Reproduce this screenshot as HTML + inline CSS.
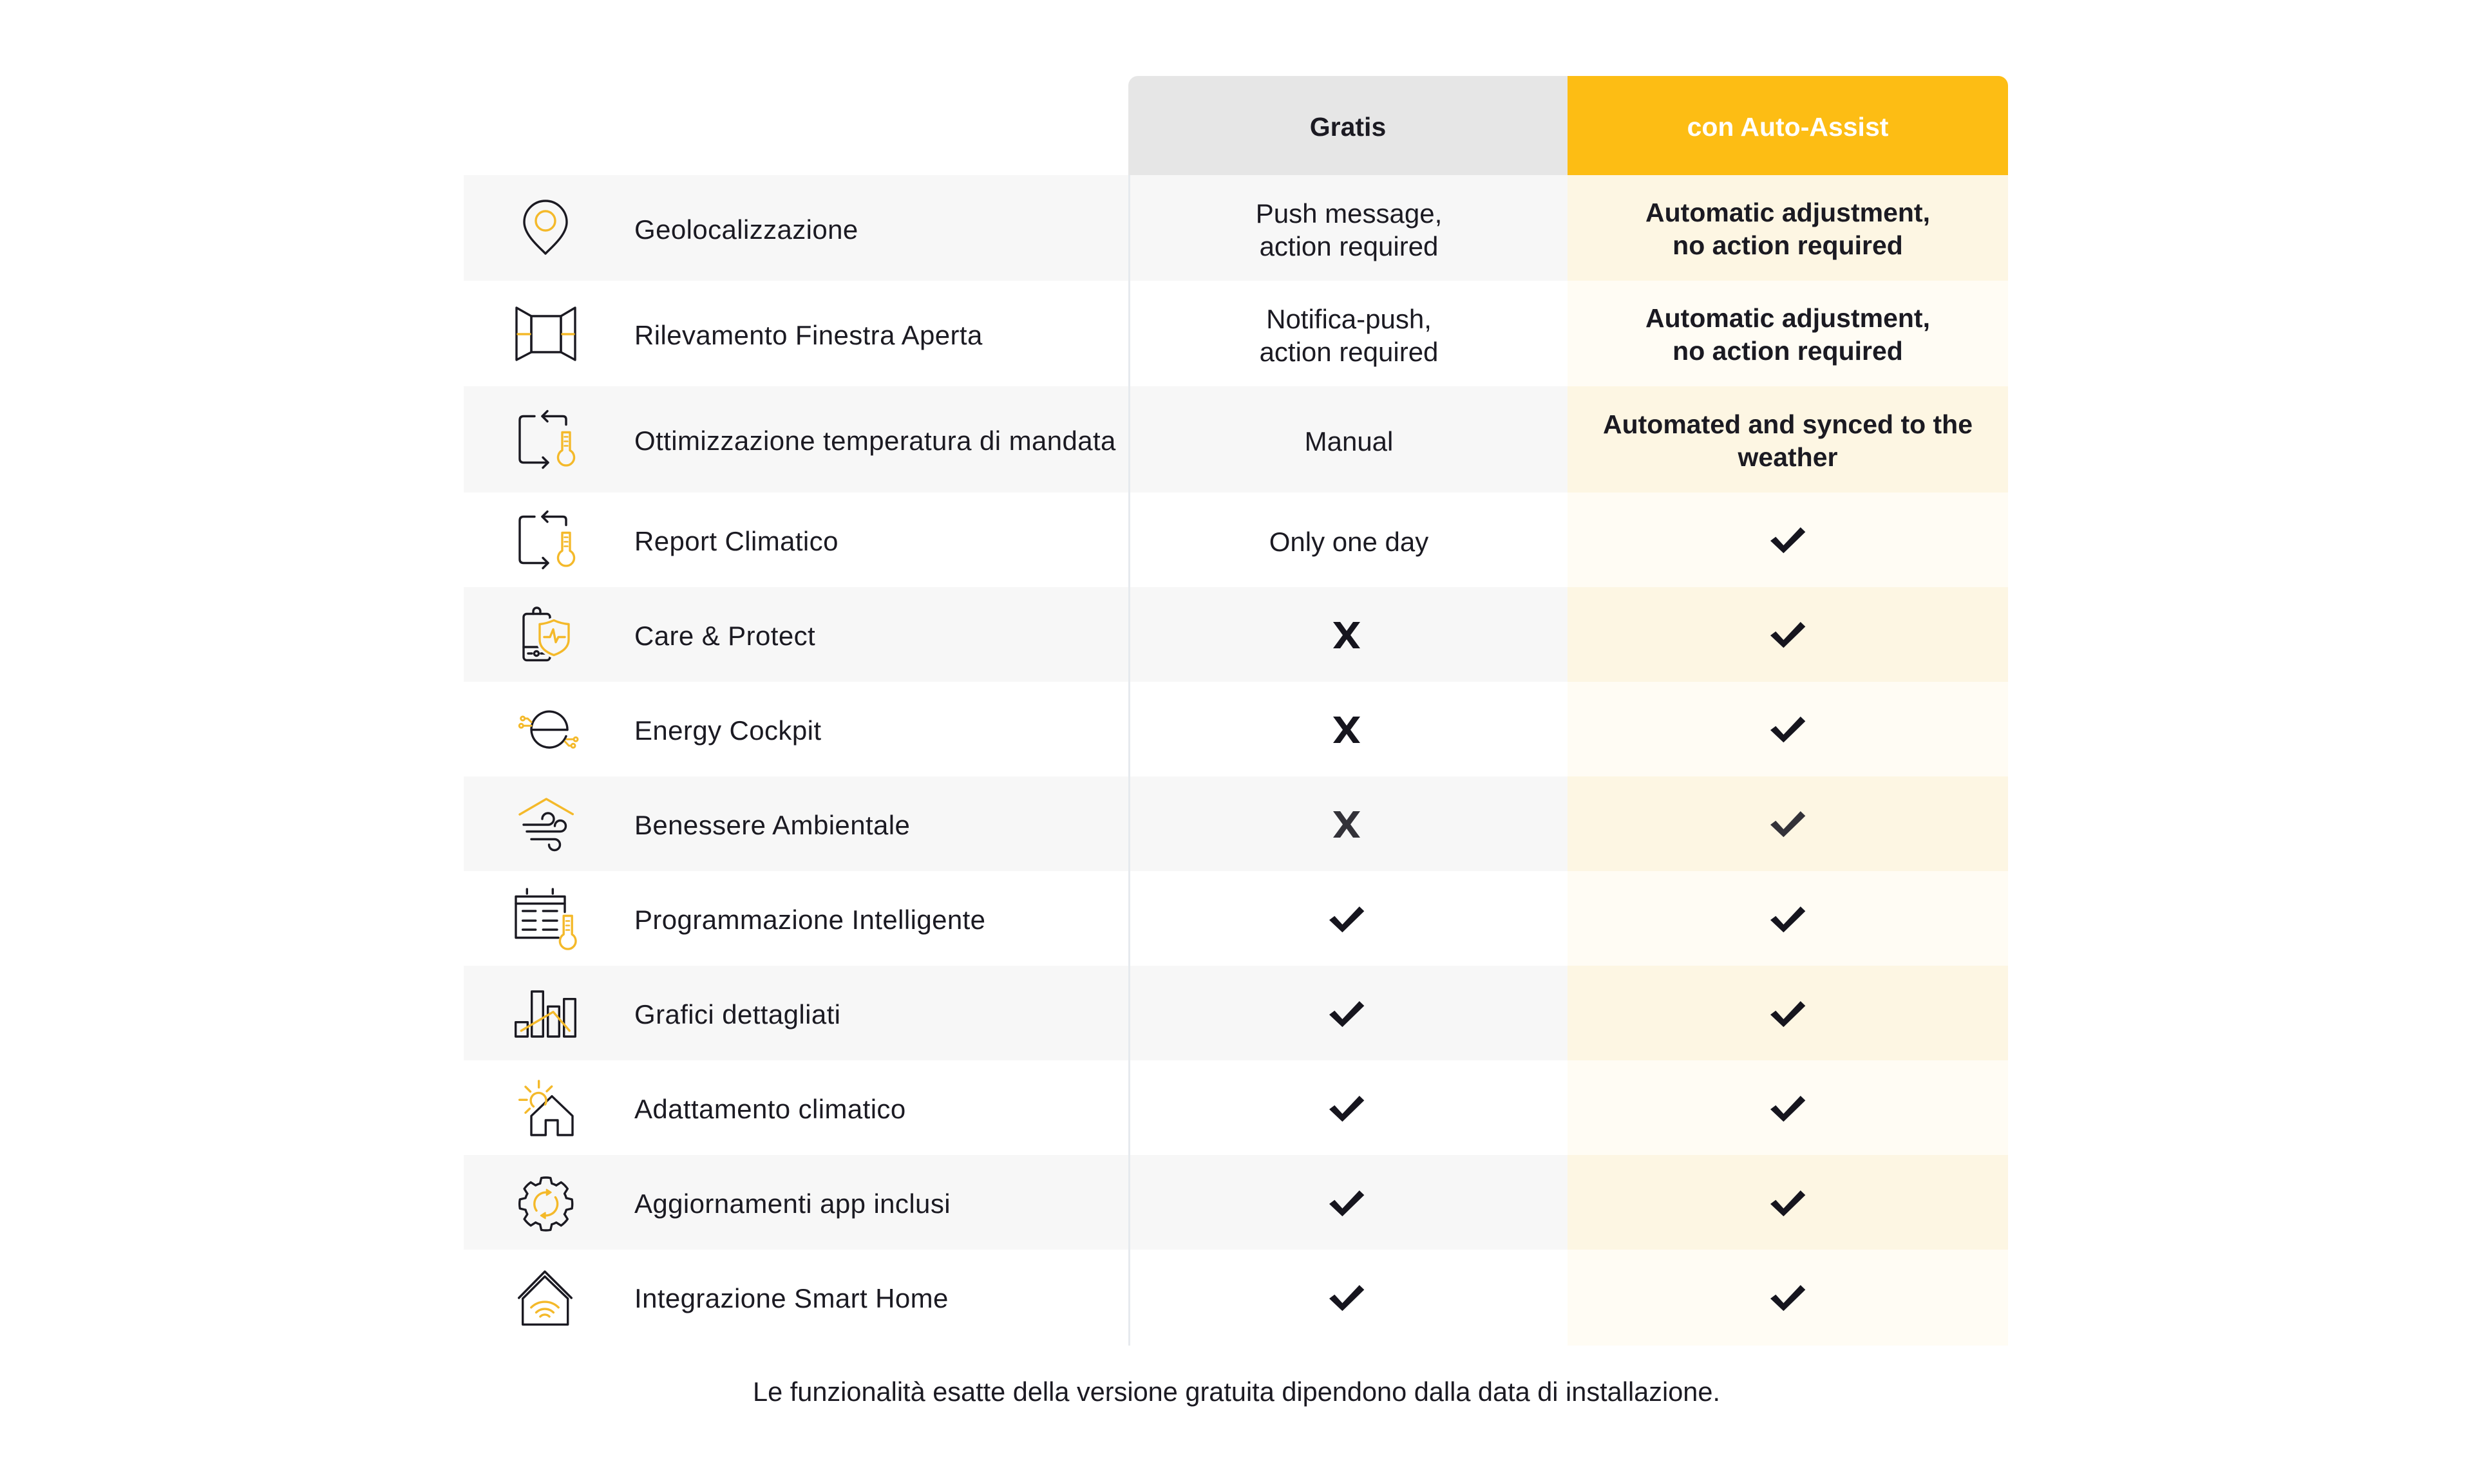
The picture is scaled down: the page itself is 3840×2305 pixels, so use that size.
<!DOCTYPE html>
<html>
<head>
<meta charset="utf-8">
<style>
html,body{margin:0;padding:0;background:#fff;}
body{width:3840px;height:2305px;position:relative;overflow:hidden;font-family:"Liberation Sans",Arial,sans-serif;color:#1b1a22;}
.bg{position:absolute;}
.lbl{position:absolute;left:985px;width:760px;display:flex;align-items:center;font-size:42px;letter-spacing:0.4px;white-space:nowrap;padding-top:5px;box-sizing:border-box;}
.gc{position:absolute;left:1755px;width:679px;display:flex;align-items:center;justify-content:center;text-align:center;font-size:42px;line-height:51px;padding-top:5px;box-sizing:border-box;}
.ac{position:absolute;left:2434px;width:684px;display:flex;align-items:center;justify-content:center;text-align:center;font-size:41px;line-height:51px;font-weight:bold;padding-top:4px;box-sizing:border-box;}
.hd{position:absolute;top:118px;height:154px;display:flex;align-items:center;justify-content:center;font-size:41px;font-weight:bold;padding-top:5px;box-sizing:border-box;}
svg{position:absolute;left:0;top:0;}
</style>
</head>
<body>
<!-- header -->
<div class="bg" style="left:1752px;top:118px;width:682px;height:154px;background:#e6e6e6;border-top-left-radius:15px;"></div>
<div class="bg" style="left:2434px;top:118px;width:684px;height:154px;background:#fdbd14;border-top-right-radius:15px;"></div>
<div class="hd" style="left:1752px;width:682px;color:#1b1a22;">Gratis</div>
<div class="hd" style="left:2434px;width:684px;color:#ffffff;">con Auto-Assist</div>

<!-- gray rows -->
<div class="bg" style="left:720px;top:272px;width:1714px;height:164px;background:#f7f7f7;"></div>
<div class="bg" style="left:720px;top:600px;width:1714px;height:165px;background:#f7f7f7;"></div>
<div class="bg" style="left:720px;top:912px;width:1714px;height:147px;background:#f7f7f7;"></div>
<div class="bg" style="left:720px;top:1206px;width:1714px;height:147px;background:#f7f7f7;"></div>
<div class="bg" style="left:720px;top:1500px;width:1714px;height:147px;background:#f7f7f7;"></div>
<div class="bg" style="left:720px;top:1794px;width:1714px;height:147px;background:#f7f7f7;"></div>

<!-- auto column -->
<div class="bg" style="left:2434px;top:272px;width:684px;height:1818px;background:#fffcf4;"></div>
<div class="bg" style="left:2434px;top:272px;width:684px;height:164px;background:#fdf6e3;"></div>
<div class="bg" style="left:2434px;top:600px;width:684px;height:165px;background:#fdf6e3;"></div>
<div class="bg" style="left:2434px;top:912px;width:684px;height:147px;background:#fdf6e3;"></div>
<div class="bg" style="left:2434px;top:1206px;width:684px;height:147px;background:#fdf6e3;"></div>
<div class="bg" style="left:2434px;top:1500px;width:684px;height:147px;background:#fdf6e3;"></div>
<div class="bg" style="left:2434px;top:1794px;width:684px;height:147px;background:#fdf6e3;"></div>

<!-- divider line -->
<div class="bg" style="left:1752px;top:272px;width:3px;height:1818px;background:#e6eaee;"></div>

<svg width="3840" height="2305" viewBox="0 0 3840 2305" xmlns="http://www.w3.org/2000/svg">
<g fill="none" stroke="#1b1a22" stroke-width="3.4" stroke-linecap="round" stroke-linejoin="round">
  <!-- Row1 pin -->
  <path d="M847,394 C840,386 814,366 814,345 A33,33 0 0 1 880,345 C880,366 854,386 847,394 Z"/>
  <circle cx="847" cy="343" r="15" stroke="#f4b92a"/>

  <!-- Row2 window -->
  <polygon points="802,478 825,491 825,547 802,559"/>
  <rect x="825" y="491" width="46" height="56"/>
  <polygon points="893,478 871,491 871,547 893,559"/>
  <path d="M804,519 H823 M873,519 H891" stroke="#f4b92a"/>

  <!-- Row3 & Row4 thermo cycle -->
  <g transform="translate(0,682.5)">
    <path d="M830,-36 H813 Q807,-36 807,-30 V30 Q807,36 813,36 H851"/>
    <path d="M843,28 L851,36 L843,44"/>
    <path d="M842,-36 H874 Q879,-36 879,-31 V-23"/>
    <path d="M850,-44 L842,-36 L850,-28"/>
    <path d="M873,17 V-11 H885 V17 A12.5,12.5 0 1 1 873,17 Z" stroke="#f4b92a"/>
    <path d="M876.5,-4 H881.5 M876.5,3 H881.5 M876.5,10 H881.5" stroke="#f4b92a" stroke-width="2.6"/>
  </g>
  <g transform="translate(0,838.5)">
    <path d="M830,-36 H813 Q807,-36 807,-30 V30 Q807,36 813,36 H851"/>
    <path d="M843,28 L851,36 L843,44"/>
    <path d="M842,-36 H874 Q879,-36 879,-31 V-23"/>
    <path d="M850,-44 L842,-36 L850,-28"/>
    <path d="M873,17 V-11 H885 V17 A12.5,12.5 0 1 1 873,17 Z" stroke="#f4b92a"/>
    <path d="M876.5,-4 H881.5 M876.5,3 H881.5 M876.5,10 H881.5" stroke="#f4b92a" stroke-width="2.6"/>
  </g>

  <!-- Row5 Care & Protect -->
  <g transform="translate(0,985.5)">
    <rect x="813" y="-32" width="41" height="72" rx="5"/>
    <path d="M828,-32 V-36 A5.5,5.5 0 0 1 839,-36 V-32"/>
    <path d="M813,19.5 H850"/>
    <path d="M820,29.5 H826 M840,29.5 H846"/>
    <circle cx="833" cy="29.5" r="3.5"/>
    <path d="M838,-16 Q849,-17 860,-22 Q871,-17 883,-16 V8 Q883,24 860,32 Q838,24 838,8 Z" stroke="#f7f7f7" stroke-width="10" fill="#f7f7f7"/>
    <path d="M838,-16 Q849,-17 860,-22 Q871,-17 883,-16 V8 Q883,24 860,32 Q838,24 838,8 Z" stroke="#f4b92a"/>
    <polyline points="845,4 854,4 859,-8 863,12 867,4 877,4" stroke="#f4b92a"/>
  </g>

  <!-- Row6 Energy Cockpit -->
  <g transform="translate(0,1132.5)">
    <path d="M825.5,1 H881"/>
    <path d="M881,1 A28,28 0 1 0 879,11"/>
    <g stroke="#f4b92a" stroke-width="3">
      <circle cx="811.7" cy="-16.5" r="3"/>
      <circle cx="809.3" cy="-5.2" r="3"/>
      <path d="M814.7,-16.5 H819.3 L825,-11"/>
      <path d="M812.3,-5.2 H825"/>
      <circle cx="894" cy="15.8" r="3"/>
      <circle cx="890" cy="25.8" r="3"/>
      <path d="M880,15.8 H891"/>
      <path d="M877.3,19.2 L883.3,25.8 H887"/>
    </g>
  </g>

  <!-- Row7 Benessere -->
  <g transform="translate(0,1279.5)">
    <polyline points="807,-14.5 848.3,-38.5 889.3,-15" stroke="#f4b92a"/>
    <path d="M813,1.5 H851 A9,9 0 1 0 842,-7.5"/>
    <path d="M818,12 H870 A8.5,8.5 0 1 0 861.5,3.5"/>
    <path d="M825,24 H861 A8.5,8.5 0 1 1 852.5,32.5"/>
  </g>

  <!-- Row8 Programmazione -->
  <g transform="translate(0,1426.5)">
    <path d="M867,30 H801 V-34 H877 V-10"/>
    <path d="M801,-23 H877"/>
    <path d="M818.3,-45.5 V-38.5 M858.3,-45.5 V-38.5"/>
    <path d="M811.7,-11.5 H831.7 M843.3,-11.5 H865 M811.7,3.5 H831.7 M843.3,3.5 H865 M811.7,17.5 H831.7 M843.3,17.5 H865"/>
    <path d="M875.2,24.8 V-4 H888.2 V24.8 A12.3,12.3 0 1 1 875.2,24.8 Z" stroke="#f4b92a"/>
    <path d="M879,4 H884 M879,11 H884 M879,18 H884" stroke="#f4b92a" stroke-width="2.6"/>
  </g>

  <!-- Row9 Grafici -->
  <g transform="translate(0,1573.5)">
    <rect x="800.7" y="14.2" width="18.6" height="22.3"/>
    <rect x="825.7" y="-33.5" width="17.6" height="70"/>
    <rect x="850.7" y="-10.2" width="17.6" height="46.7"/>
    <rect x="875.7" y="-21.8" width="17.6" height="58.3"/>
    <polyline points="809.3,27.5 859,-1.8 884.3,27.5" stroke="#f4b92a"/>
  </g>

  <!-- Row10 Adattamento -->
  <g transform="translate(0,1720.5)">
    <path d="M825,42.5 V12.8 L857,-17.8 L889,12.8 V42.5 H866 V19.5 H847.3 V42.5 Z"/>
    <g stroke="#f4b92a">
      <path d="M836.7,-41.5 V-31.5"/>
      <path d="M816,-32.5 L823.5,-25"/>
      <path d="M856.7,-33 L849,-25.5"/>
      <path d="M806.7,-12.2 H818"/>
      <path d="M816,7.8 L822.5,1.5"/>
      <path d="M846.5,-5 A12,12 0 1 0 828.5,-1.8"/>
    </g>
  </g>

  <!-- Row11 Gear -->
  <g transform="translate(847.7,1870)">
    <path d="M-9.10,-31.72 L-7.12,-40.38 A41,41 0 0 1 7.12,-40.38 L9.10,-31.72 A33,33 0 0 1 16.0,-28.86"/>
    <path transform="rotate(45)" d="M-9.10,-31.72 L-7.12,-40.38 A41,41 0 0 1 7.12,-40.38 L9.10,-31.72 A33,33 0 0 1 16.0,-28.86"/>
    <path transform="rotate(90)" d="M-9.10,-31.72 L-7.12,-40.38 A41,41 0 0 1 7.12,-40.38 L9.10,-31.72 A33,33 0 0 1 16.0,-28.86"/>
    <path transform="rotate(135)" d="M-9.10,-31.72 L-7.12,-40.38 A41,41 0 0 1 7.12,-40.38 L9.10,-31.72 A33,33 0 0 1 16.0,-28.86"/>
    <path transform="rotate(180)" d="M-9.10,-31.72 L-7.12,-40.38 A41,41 0 0 1 7.12,-40.38 L9.10,-31.72 A33,33 0 0 1 16.0,-28.86"/>
    <path transform="rotate(225)" d="M-9.10,-31.72 L-7.12,-40.38 A41,41 0 0 1 7.12,-40.38 L9.10,-31.72 A33,33 0 0 1 16.0,-28.86"/>
    <path transform="rotate(270)" d="M-9.10,-31.72 L-7.12,-40.38 A41,41 0 0 1 7.12,-40.38 L9.10,-31.72 A33,33 0 0 1 16.0,-28.86"/>
    <path transform="rotate(315)" d="M-9.10,-31.72 L-7.12,-40.38 A41,41 0 0 1 7.12,-40.38 L9.10,-31.72 A33,33 0 0 1 16.0,-28.86"/>
    <g stroke="#f4b92a">
      <path d="M-14.7,10.3 A18,18 0 0 1 1.6,-17.9"/>
      <path d="M14.7,-10.3 A18,18 0 0 1 -1.6,17.9"/>
      <polygon points="8,-18 1,-22.5 1,-13.5" fill="#f4b92a" stroke-width="2"/>
      <polygon points="-8,18 -1,13.5 -1,22.5" fill="#f4b92a" stroke-width="2"/>
    </g>
  </g>

  <!-- Row12 Smart Home -->
  <g transform="translate(0,2014.5)">
    <polyline points="805.7,1.5 846,-39.5 887.3,1.5"/>
    <path d="M811.7,42.8 V2.5 L846,-31.8 L881.7,2.5 V42.8 Z"/>
    <g stroke="#f4b92a">
      <path d="M824.8,16.3 A30,30 0 0 1 867.2,16.3"/>
      <path d="M832.6,24.1 A19,19 0 0 1 859.4,24.1"/>
      <path d="M838.9,30.4 A10,10 0 0 1 853.1,30.4"/>
    </g>
  </g>
</g>

<!-- marks -->
<g fill="#16151e">
  <polygon transform="translate(2749,819)" points="0,21 8.3,14.7 20.4,28 46.8,0 54.3,7.3 20.4,40.3"/>
  <polygon transform="translate(2749,966)" points="0,21 8.3,14.7 20.4,28 46.8,0 54.3,7.3 20.4,40.3"/>
  <polygon transform="translate(2749,1113)" points="0,21 8.3,14.7 20.4,28 46.8,0 54.3,7.3 20.4,40.3"/>
  <polygon transform="translate(2749,1260)" points="0,21 8.3,14.7 20.4,28 46.8,0 54.3,7.3 20.4,40.3" fill="#333239"/>
  <polygon transform="translate(2749,1408)" points="0,21 8.3,14.7 20.4,28 46.8,0 54.3,7.3 20.4,40.3"/>
  <polygon transform="translate(2749,1555)" points="0,21 8.3,14.7 20.4,28 46.8,0 54.3,7.3 20.4,40.3"/>
  <polygon transform="translate(2749,1702)" points="0,21 8.3,14.7 20.4,28 46.8,0 54.3,7.3 20.4,40.3"/>
  <polygon transform="translate(2749,1849)" points="0,21 8.3,14.7 20.4,28 46.8,0 54.3,7.3 20.4,40.3"/>
  <polygon transform="translate(2749,1996)" points="0,21 8.3,14.7 20.4,28 46.8,0 54.3,7.3 20.4,40.3"/>
  <polygon transform="translate(2064,1408)" points="0,21 8.3,14.7 20.4,28 46.8,0 54.3,7.3 20.4,40.3"/>
  <polygon transform="translate(2064,1555)" points="0,21 8.3,14.7 20.4,28 46.8,0 54.3,7.3 20.4,40.3"/>
  <polygon transform="translate(2064,1702)" points="0,21 8.3,14.7 20.4,28 46.8,0 54.3,7.3 20.4,40.3"/>
  <polygon transform="translate(2064,1849)" points="0,21 8.3,14.7 20.4,28 46.8,0 54.3,7.3 20.4,40.3"/>
  <polygon transform="translate(2064,1996)" points="0,21 8.3,14.7 20.4,28 46.8,0 54.3,7.3 20.4,40.3"/>
  <polygon transform="translate(2070,966)" points="0,0 11,0 21,14 31,0 42,0 27,20.5 42,41 31,41 21,27 11,41 0,41 15,20.5"/>
  <polygon transform="translate(2070,1113)" points="0,0 11,0 21,14 31,0 42,0 27,20.5 42,41 31,41 21,27 11,41 0,41 15,20.5"/>
  <polygon transform="translate(2070,1260)" points="0,0 11,0 21,14 31,0 42,0 27,20.5 42,41 31,41 21,27 11,41 0,41 15,20.5" fill="#333239"/>
</g>
</svg>

<!-- labels -->
<div class="lbl" style="top:272px;height:164px;">Geolocalizzazione</div>
<div class="lbl" style="top:436px;height:164px;">Rilevamento Finestra Aperta</div>
<div class="lbl" style="top:600px;height:165px;">Ottimizzazione temperatura di mandata</div>
<div class="lbl" style="top:765px;height:147px;">Report Climatico</div>
<div class="lbl" style="top:912px;height:147px;">Care &amp; Protect</div>
<div class="lbl" style="top:1059px;height:147px;">Energy Cockpit</div>
<div class="lbl" style="top:1206px;height:147px;">Benessere Ambientale</div>
<div class="lbl" style="top:1353px;height:147px;">Programmazione Intelligente</div>
<div class="lbl" style="top:1500px;height:147px;">Grafici dettagliati</div>
<div class="lbl" style="top:1647px;height:147px;">Adattamento climatico</div>
<div class="lbl" style="top:1794px;height:147px;">Aggiornamenti app inclusi</div>
<div class="lbl" style="top:1941px;height:147px;">Integrazione Smart Home</div>

<!-- gratis values -->
<div class="gc" style="top:272px;height:164px;">Push message,<br>action required</div>
<div class="gc" style="top:436px;height:164px;">Notifica-push,<br>action required</div>
<div class="gc" style="top:600px;height:165px;">Manual</div>
<div class="gc" style="top:765px;height:147px;">Only one day</div>

<!-- auto values -->
<div class="ac" style="top:272px;height:164px;">Automatic adjustment,<br>no action required</div>
<div class="ac" style="top:436px;height:164px;">Automatic adjustment,<br>no action required</div>
<div class="ac" style="top:600px;height:165px;">Automated and synced to the<br>weather</div>

<!-- footer -->
<div style="position:absolute;left:0;width:3840px;top:2135px;height:54px;display:flex;align-items:center;justify-content:center;font-size:41.5px;color:#1b1a22;">Le funzionalità esatte della versione gratuita dipendono dalla data di installazione.</div>
</body>
</html>
